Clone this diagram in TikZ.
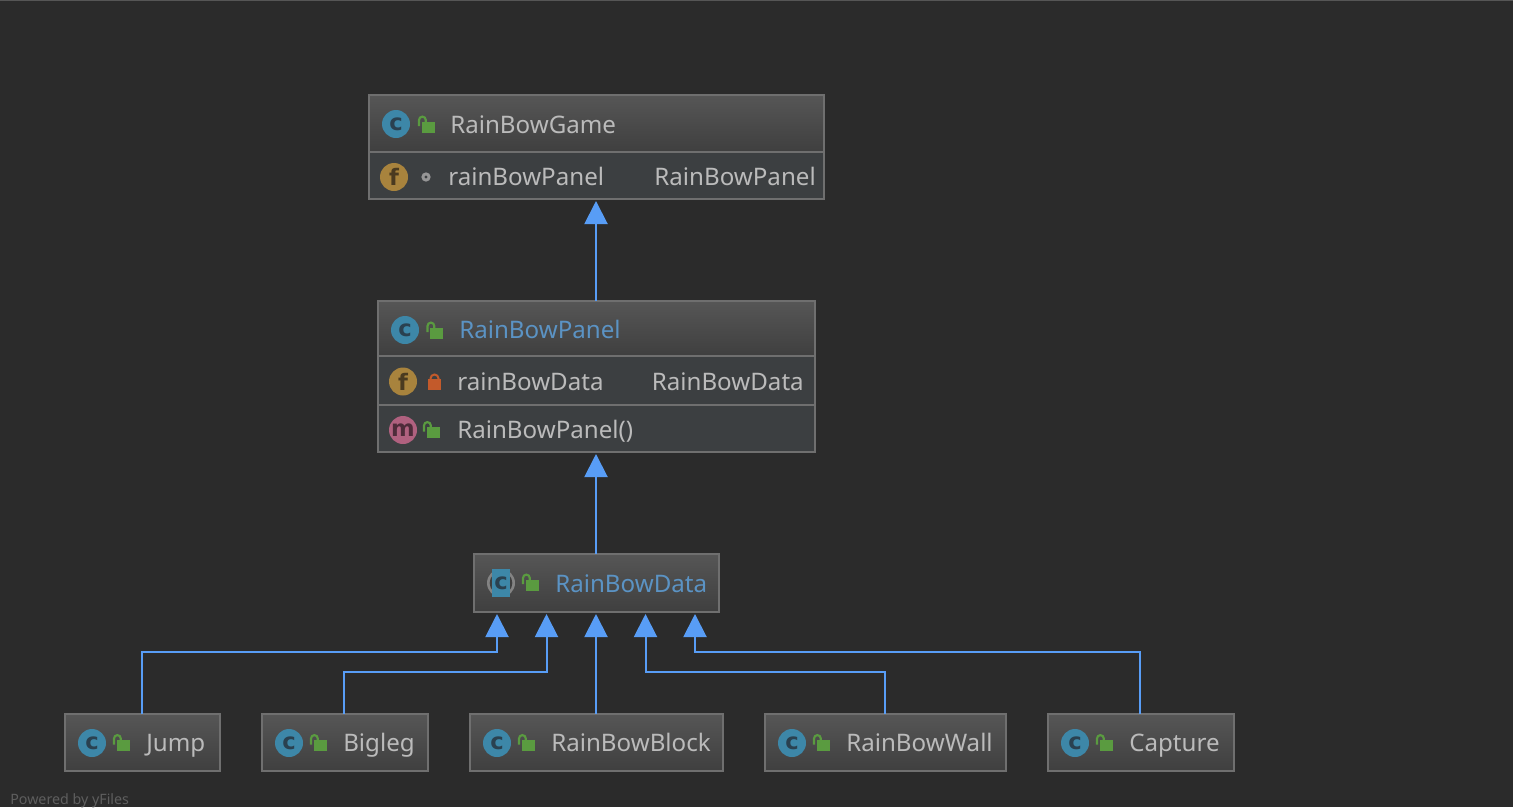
\documentclass[tikz,border=0pt]{standalone}
\usepackage{fontspec}
\setmainfont{Noto Sans}
\newfontfamily\iconfont{DejaVu Sans Bold}
\usetikzlibrary{arrows.meta}
\definecolor{bgc}{HTML}{2B2B2B}
\definecolor{bodyc}{HTML}{3C3F41}
\definecolor{edgec}{HTML}{6F6F6F}
\definecolor{hdtop}{HTML}{565656}
\definecolor{hdbot}{HTML}{3F3F3F}
\definecolor{txtc}{HTML}{BBBBBB}
\definecolor{linkc}{HTML}{5B93C4}
\definecolor{arrowc}{HTML}{589DF6}
\definecolor{classc}{HTML}{3D87A8}
\definecolor{fieldc}{HTML}{A8833D}
\definecolor{methc}{HTML}{B0617F}
\definecolor{greenc}{HTML}{5A9B40}
\definecolor{redc}{HTML}{C35A2B}
\definecolor{iconink}{HTML}{2A4150}
\definecolor{fieldink}{HTML}{4A3A20}
\definecolor{methink}{HTML}{4E2C3A}
\tikzset{
  x=0.75pt,y=-0.75pt,
  frame/.style={draw=edgec,line width=1.5pt,fill=none,inner sep=0pt,outer sep=0pt,anchor=north west},
  hdr/.style={top color=hdtop,bottom color=hdbot,draw=none,inner sep=0pt,outer sep=0pt,anchor=north west},
  rowfill/.style={fill=bodyc,draw=none,inner sep=0pt,outer sep=0pt,anchor=north west},
  label/.style={text=txtc,font=\fontsize{18.1}{20}\selectfont,anchor=base west,inner sep=0pt},
  linklabel/.style={label,text=linkc},
  typelabel/.style={label,anchor=base east},
  inh/.style={draw=arrowc,line width=1.5pt,-{Triangle[length=17.25pt,width=17.25pt,fill=arrowc]}},
  iconletter/.style={font=\iconfont\fontsize{17}{17}\selectfont,inner sep=0pt},
  badge/.style={circle,minimum size=21pt,inner sep=0pt,draw=none},
}
% name, centre x, centre y, colour, letter colour, letter
\newcommand{\badgeicon}[6]{\node[badge,fill=#4,iconletter,text=#5] (#1) at (#2,#3) {#6};}
\newcommand{\openlock}[2]{%
  \fill[greenc] (#1-6.5,#2-5.5) rectangle (#1+6.5,#2+5.5);
  \draw[greenc,line width=1.6pt] (#1-9,#2-1) -- (#1-9,#2-7) arc[start angle=180,end angle=360,radius=3.4] -- (#1-2.2,#2-5);
}
\newcommand{\closedlock}[2]{%
  \fill[redc] (#1-6.5,#2-3) rectangle (#1+6.5,#2+8);
  \draw[redc,line width=1.5pt] (#1-4,#2-3) -- (#1-4,#2-3.5) arc[start angle=180,end angle=360,radius=4] -- (#1+4,#2-3);
}
\newcommand{\leafbox}[5]{%
  \node[hdr,minimum width=#3*0.75pt-#2*0.75pt,minimum height=43pt] (#1h) at (#2,714) {};
  \badgeicon{#1i}{#2+27}{743}{classc}{iconink}{c}
  \openlock{#2+58}{745.5}
  \node[label] (#1t) at (#4,751.5) {#5};
  \node[frame,minimum width=#3*0.75pt-#2*0.75pt,minimum height=43pt] (#1) at (#2,714) {};
}
\begin{document}
\begin{tikzpicture}
\useasboundingbox (0,0) rectangle (1513,807);
\fill[bgc] (0,0) rectangle (1513,807);
\fill[hdtop] (0,0) rectangle (1513,1.4);

% RainBowGame
\node[hdr,minimum width=341.25pt,minimum height=42.75pt] (gameh) at (369,95) {};
\node[rowfill,minimum width=341.25pt,minimum height=35.25pt] (gamer) at (369,152) {};
\draw[edgec,line width=1.5pt] (gamer.north west) -- (gamer.north east);
\badgeicon{gamei}{396}{124}{classc}{iconink}{c}
\openlock{428}{127}
\node[label] (gamet) at (450,133) {RainBowGame};
\badgeicon{gamef}{394}{177}{fieldc}{fieldink}{f}
\node[circle,fill=txtc!80!black,minimum size=7pt,inner sep=0pt,line width=0pt] (gamed) at (426,177) {};
\node[circle,fill=bodyc,minimum size=2.5pt,inner sep=0pt] (gamedd) at (426,177) {};
\node[label] (gamefn) at (448,185.5) {rainBowPanel};
\node[typelabel] (gameft) at (816,185.5) {RainBowPanel};
\node[frame,minimum width=341.25pt,minimum height=78pt] (game) at (369,95) {};

% RainBowPanel
\node[hdr,minimum width=327.75pt,minimum height=41.25pt] (panelh) at (378,301) {};
\node[rowfill,minimum width=327.75pt,minimum height=72pt] (panelr) at (378,356) {};
\coordinate (divl) at (378,405);
\coordinate (divr) at (815,405);
\draw[edgec,line width=1.5pt] (panelr.north west) -- (panelr.north east);
\draw[edgec,line width=1.5pt] (divl) -- (divr);
\badgeicon{paneli}{405}{330}{classc}{iconink}{c}
\openlock{436.5}{333}
\node[linklabel] (panelt) at (459,338.5) {RainBowPanel};
\badgeicon{panelf}{403}{381.5}{fieldc}{fieldink}{f}
\closedlock{434.5}{382}
\node[label] (panelfn) at (457,390.5) {rainBowData};
\node[typelabel] (panelft) at (804,390.5) {RainBowData};
\badgeicon{panelm}{403}{430}{methc}{methink}{m}
\openlock{433}{432.5}
\node[label] (panelmn) at (457,438.5) {RainBowPanel()};
\node[frame,minimum width=327.75pt,minimum height=113.25pt] (panel) at (378,301) {};

% RainBowData (abstract class icon)
\node[hdr,minimum width=183.75pt,minimum height=43.5pt] (datah) at (474,554) {};
\node[badge,fill=txtc!70!black] (dataring) at (501,583) {};
\node[badge,fill=hdbot,minimum size=17pt] (datahole) at (501,583) {};
\node[fill=classc,minimum width=14pt,minimum height=21.5pt,inner sep=0pt,iconletter,text=iconink] (datai) at (501,583) {c};
\openlock{532}{585}
\node[linklabel] (datat) at (555,592) {RainBowData};
\node[frame,minimum width=183.75pt,minimum height=43.5pt] (data) at (474,554) {};

% leaf classes
\leafbox{jump}{65}{220}{146}{Jump}
\leafbox{bigleg}{262}{428}{343}{Bigleg}
\leafbox{block}{470}{723}{551}{RainBowBlock}
\leafbox{wall}{765}{1006}{846}{RainBowWall}
\leafbox{capture}{1048}{1234}{1129}{Capture}

% connector ends
\coordinate (gtip) at (596,201);
\coordinate (ptip) at (596,454);
\coordinate (panelfoot) at (596,301);
\coordinate (datafoot) at (596,554);
\coordinate (t1) at (497,614);
\coordinate (t2) at (546.5,614);
\coordinate (t3) at (596,614);
\coordinate (t4) at (645.5,614);
\coordinate (t5) at (695,614);
\coordinate (b1) at (497,652);
\coordinate (b2) at (546.5,672);
\coordinate (b4) at (645.5,672);
\coordinate (b5) at (695,652);
\coordinate (f1) at (142,714);
\coordinate (f2) at (344,714);
\coordinate (f3) at (596,714);
\coordinate (f4) at (885,714);
\coordinate (f5) at (1140,714);

\draw[inh] (panelfoot) -- (gtip);
\draw[inh] (datafoot) -- (ptip);
\draw[inh] (f1) |- (b1) -- (t1);
\draw[inh] (f2) |- (b2) -- (t2);
\draw[inh] (f3) -- (t3);
\draw[inh] (f4) |- (b4) -- (t4);
\draw[inh] (f5) |- (b5) -- (t5);

\node[text=hdtop!95!white,font=\fontsize{10.7}{12}\selectfont,anchor=base west,inner sep=0pt] (yfiles) at (10,804) {Powered by yFiles};
\end{tikzpicture}
\end{document}
